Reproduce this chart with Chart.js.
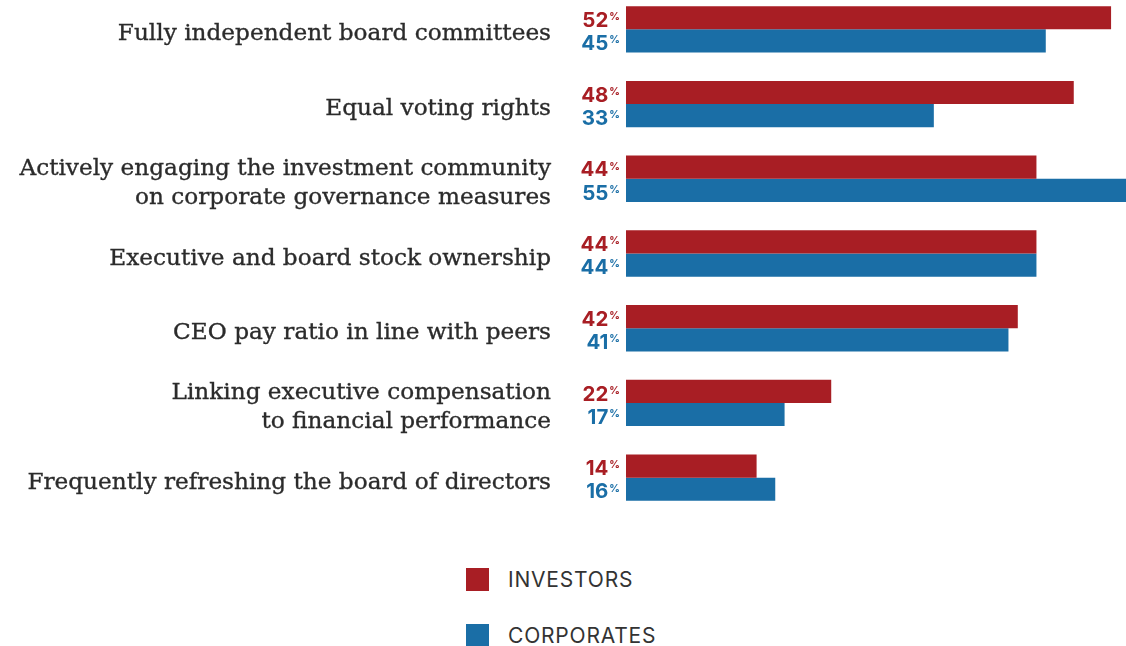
<!DOCTYPE html>
<html>
<head>
<meta charset="utf-8">
<script src="https://cdn.jsdelivr.net/npm/chart.js@4"></script>
<style>
    body { margin: 0; background: #fff; overflow: hidden; width: 1126px; height: 646px; position: relative; }
    #wrap { position: absolute; left: 0; top: -8px; width: 1126px; height: 523px; }
    #legend { position: absolute; left: 466px; top: 568px; font-family: Inter, sans-serif; font-size: 21px; letter-spacing: 0.8px; color: #333; }
    .legend-item { display: flex; align-items: center; height: 23px; margin-bottom: 33px; }
    .legend-box { width: 23px; height: 23px; margin-right: 19px; }
</style>
</head>
<body>
<div id="wrap"><canvas id="chart"></canvas></div>
<div id="legend"></div>
<script>
// Data
const categories = [
    'Fully independent board committees',
    'Equal voting rights',
    ['Actively engaging the investment community', 'on corporate governance measures'],
    'Executive and board stock ownership',
    'CEO pay ratio in line with peers',
    ['Linking executive compensation', 'to financial performance'],
    'Frequently refreshing the board of directors'
];
const investors = [52, 48, 44, 44, 42, 22, 14];
const corporates = [45, 33, 55, 44, 41, 17, 16];

const RED = '#a81e24';
const BLUE = '#1a6ea6';

// Category labels, drawn at the y scale's tick positions
const catLabels = {
    id: 'catLabels',
    afterDraw(chart) {
        const ctx = chart.ctx;
        const yScale = chart.scales.y;
        const x = chart.chartArea.left - 75;
        const lineH = 29;
        ctx.save();
        ctx.font = '23.2px "DejaVu Serif"';
        ctx.fillStyle = '#2b2b2b';
        ctx.strokeStyle = '#2b2b2b';
        ctx.lineWidth = 0.35;
        ctx.textAlign = 'right';
        ctx.textBaseline = 'middle';
        chart.data.labels.forEach((label, i) => {
            const lines = Array.isArray(label) ? label : [label];
            const cy = yScale.getPixelForTick(i) + 5;
            lines.forEach((line, k) => {
                const y = cy + (k - (lines.length - 1) / 2) * lineH;
                ctx.fillText(line, x, y);
                ctx.strokeText(line, x, y);
            });
        });
        ctx.restore();
    }
};

// Percent labels to the left of each bar
const pctLabels = {
    id: 'pctLabels',
    afterDatasetsDraw(chart) {
        const ctx = chart.ctx;
        const x = chart.chartArea.left - 6;
        chart.data.datasets.forEach((ds, i) => {
            const meta = chart.getDatasetMeta(i);
            meta.data.forEach((bar, j) => {
                ctx.save();
                ctx.fillStyle = ds.backgroundColor;
                ctx.font = 'bold 10.5px Inter, sans-serif';
                const pw = ctx.measureText('%').width;
                ctx.textBaseline = 'top';
                ctx.textAlign = 'right';
                ctx.fillText('%', x, bar.y - 6);
                ctx.font = 'bold 20.5px Inter, sans-serif';
                ctx.textBaseline = 'middle';
                ctx.fillText(String(ds.data[j]), x - pw - 1, bar.y + 3);
                ctx.restore();
            });
        });
    }
};

const ctx = document.getElementById('chart').getContext('2d');
const chart = new Chart(ctx, {
    type: 'bar',
    data: {
        labels: categories,
        datasets: [
            {
                label: 'INVESTORS',
                data: investors,
                backgroundColor: RED,
                categoryPercentage: 0.62,
                barPercentage: 1
            },
            {
                label: 'CORPORATES',
                data: corporates,
                backgroundColor: BLUE,
                categoryPercentage: 0.62,
                barPercentage: 1
            }
        ]
    },
    options: {
        indexAxis: 'y',
        responsive: true,
        maintainAspectRatio: false,
        animation: false,
        layout: { padding: 0 },
        plugins: {
            legend: { display: false },
            tooltip: { enabled: false }
        },
        scales: {
            x: {
                display: false,
                min: 0,
                max: 53.6
            },
            y: {
                grid: { display: false, drawTicks: false },
                border: { display: false },
                ticks: { display: false },
                afterFit: (scale) => {
                    scale.width = 626;
                    scale.paddingTop = 0;
                    scale.paddingBottom = 0;
                }
            }
        }
    },
    plugins: [catLabels, pctLabels]
});

// Vertical legend
const legend = document.getElementById('legend');
chart.data.datasets.forEach(ds => {
    const item = document.createElement('div');
    item.className = 'legend-item';
    item.innerHTML = '<span class="legend-box" style="background:' + ds.backgroundColor + '"></span>' + ds.label;
    legend.appendChild(item);
});
</script>
</body>
</html>
